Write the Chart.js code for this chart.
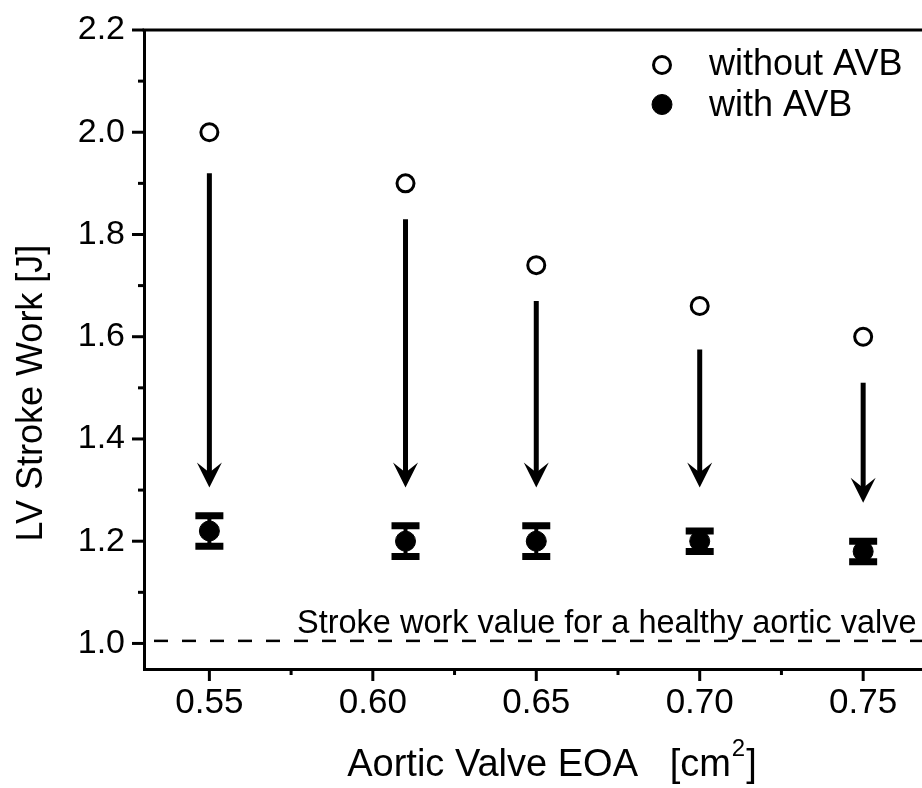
<!DOCTYPE html>
<html>
<head>
<meta charset="utf-8">
<script src="https://cdn.jsdelivr.net/npm/chart.js@4/dist/chart.umd.min.js"></script>
<style>
html,body{margin:0;padding:0;background:#fff;overflow:hidden;}
#wrap{width:922px;height:788px;}
</style>
</head>
<body>
<div id="wrap"><canvas id="c" width="922" height="788"></canvas></div>
<script>
// ---- data ----
const eoa = [0.55, 0.61, 0.65, 0.70, 0.75];
const withoutAVB = [2.00, 1.90, 1.74, 1.66, 1.60];
const withAVB = [1.22, 1.20, 1.20, 1.20, 1.18];
const errAVB = [0.03, 0.03, 0.03, 0.02, 0.02];
const arrowFrom = [1.92, 1.83, 1.67, 1.575, 1.51];
const arrowTo = [1.305, 1.305, 1.305, 1.305, 1.275];
const healthyValue = 1.005;
const xTickLabels = ['0.55', '0.60', '0.65', '0.70', '0.75'];
const xMinorTicks = [0.575, 0.625, 0.675, 0.725];
const yTickLabels = ['1.0', '1.2', '1.4', '1.6', '1.8', '2.0', '2.2'];
const yMinorTicks = [1.1, 1.3, 1.5, 1.7, 1.9, 2.1];
const seriesNames = ['without AVB', 'with AVB'];
const healthyLabel = 'Stroke work value for a healthy aortic valve';
const xTitle = ['Aortic Valve EOA   [cm', '2', ']'];
const yTitle = 'LV Stroke Work [J]';

const FONT = "'Liberation Sans', Arial, Helvetica, sans-serif";
const X_MIN = 0.53, X_MAX = 0.768, Y_MIN = 0.95, Y_MAX = 2.2;

const overlay = {
  id: 'overlay',
  beforeDatasetsDraw(chart) {
    const ctx = chart.ctx, xs = chart.scales.x, ys = chart.scales.y;
    ctx.save();
    ctx.strokeStyle = '#000'; ctx.fillStyle = '#000';
    // arrows
    eoa.forEach((v, i) => {
      const x = xs.getPixelForValue(v);
      const y0 = ys.getPixelForValue(arrowFrom[i]);
      const y1 = ys.getPixelForValue(arrowTo[i]);
      ctx.lineWidth = 5; ctx.lineCap = 'butt';
      ctx.beginPath(); ctx.moveTo(x, y0); ctx.lineTo(x, y1 - 12); ctx.stroke();
      ctx.beginPath();
      ctx.moveTo(x, y1);
      ctx.lineTo(x - 12.5, y1 - 25);
      ctx.lineTo(x, y1 - 15);
      ctx.lineTo(x + 12.5, y1 - 25);
      ctx.closePath(); ctx.fill();
    });
    // error bars
    eoa.forEach((v, i) => {
      const x = xs.getPixelForValue(v);
      const yt = ys.getPixelForValue(withAVB[i] + errAVB[i]);
      const yb = ys.getPixelForValue(withAVB[i] - errAVB[i]);
      ctx.lineWidth = 4;
      ctx.beginPath(); ctx.moveTo(x, yt); ctx.lineTo(x, yb); ctx.stroke();
      ctx.lineWidth = 7;
      ctx.beginPath();
      ctx.moveTo(x - 14, yt); ctx.lineTo(x + 14, yt);
      ctx.moveTo(x - 14, yb); ctx.lineTo(x + 14, yb);
      ctx.stroke();
    });
    ctx.restore();
  },
  afterDraw(chart) {
    const ctx = chart.ctx, xs = chart.scales.x, ys = chart.scales.y, a = chart.chartArea;
    ctx.save();
    ctx.strokeStyle = '#000'; ctx.fillStyle = '#000'; ctx.lineCap = 'butt';
    // top frame line
    ctx.lineWidth = 3;
    ctx.beginPath(); ctx.moveTo(a.left - 1.5, a.top); ctx.lineTo(a.right + 2, a.top); ctx.stroke();
    // y ticks
    yTickLabels.forEach(t => {
      const y = ys.getPixelForValue(parseFloat(t));
      ctx.beginPath(); ctx.moveTo(a.left - 12, y); ctx.lineTo(a.left, y); ctx.stroke();
    });
    yMinorTicks.forEach(v => {
      const y = ys.getPixelForValue(v);
      ctx.beginPath(); ctx.moveTo(a.left - 6, y); ctx.lineTo(a.left, y); ctx.stroke();
    });
    // x ticks
    xTickLabels.forEach(t => {
      const x = xs.getPixelForValue(parseFloat(t));
      ctx.beginPath(); ctx.moveTo(x, a.bottom); ctx.lineTo(x, a.bottom + 12); ctx.stroke();
    });
    xMinorTicks.forEach(v => {
      const x = xs.getPixelForValue(v);
      ctx.beginPath(); ctx.moveTo(x, a.bottom); ctx.lineTo(x, a.bottom + 6); ctx.stroke();
    });
    // healthy annotation
    ctx.font = '32.5px ' + FONT;
    ctx.textAlign = 'left'; ctx.textBaseline = 'alphabetic';
    ctx.fillText(healthyLabel, 297, 633);
    // legend
    const ds = chart.data.datasets;
    [0, 1].forEach(i => {
      const cy = 65 + i * 39.5;
      ctx.beginPath();
      ctx.arc(662, cy, ds[i].pointRadius, 0, Math.PI * 2);
      ctx.fillStyle = ds[i].pointBackgroundColor; ctx.fill();
      ctx.lineWidth = ds[i].pointBorderWidth; ctx.strokeStyle = '#000'; ctx.stroke();
      ctx.fillStyle = '#000';
      ctx.font = '36px ' + FONT;
      ctx.fillText(seriesNames[i], 709, 75 + i * 41);
    });
    // axis titles
    const big = '38px ' + FONT, small = '24px ' + FONT;
    ctx.textBaseline = 'alphabetic';
    ctx.font = big; const w0 = ctx.measureText(xTitle[0]).width;
    ctx.font = small; const w1 = ctx.measureText(xTitle[1]).width;
    ctx.font = big; const w2 = ctx.measureText(xTitle[2]).width;
    const x0 = 551 - (w0 + w1 + w2) / 2;
    ctx.font = big; ctx.fillText(xTitle[0], x0, 776);
    ctx.font = small; ctx.fillText(xTitle[1], x0 + w0 + 1, 756);
    ctx.font = big; ctx.fillText(xTitle[2], x0 + w0 + w1 + 2, 776);
    ctx.save();
    ctx.translate(32, 393); ctx.rotate(-Math.PI / 2);
    ctx.textAlign = 'center'; ctx.textBaseline = 'middle';
    ctx.font = '36px ' + FONT;
    ctx.fillText(yTitle, 0, 0);
    ctx.restore();
    ctx.restore();
  }
};

new Chart(document.getElementById('c'), {
  type: 'scatter',
  data: {
    datasets: [
      {
        label: seriesNames[0],
        data: eoa.map((x, i) => ({ x, y: withoutAVB[i] })),
        pointStyle: 'circle', pointRadius: 8.5, pointBorderWidth: 3,
        pointBackgroundColor: '#ffffff', pointBorderColor: '#000000',
        showLine: false
      },
      {
        label: seriesNames[1],
        data: eoa.map((x, i) => ({ x, y: withAVB[i] })),
        pointStyle: 'circle', pointRadius: 10, pointBorderWidth: 1,
        pointBackgroundColor: '#000000', pointBorderColor: '#000000',
        showLine: false
      },
      {
        label: 'healthy',
        type: 'line',
        data: [{ x: X_MIN, y: healthyValue }, { x: X_MAX, y: healthyValue }],
        borderColor: '#000', borderWidth: 2.5, borderDash: [14, 14], borderDashOffset: -10,
        pointRadius: 0, fill: false
      }
    ]
  },
  options: {
    responsive: false,
    animation: false,
    events: [],
    layout: { autoPadding: false, padding: { top: 30, right: 0, left: 0, bottom: 0 } },
    plugins: { legend: { display: false }, tooltip: { enabled: false } },
    scales: {
      x: {
        type: 'linear', min: X_MIN, max: X_MAX,
        afterBuildTicks: s => { s.ticks = xTickLabels.map(t => ({ value: parseFloat(t) })); },
        afterFit: s => { s.height = 119; s.paddingLeft = 0; s.paddingRight = 0; s.paddingTop = 0; s.paddingBottom = 0; },
        grid: { display: false, drawTicks: false, tickLength: 0 },
        border: { display: true, color: '#000', width: 3 },
        ticks: {
          padding: 13, color: '#000', font: { family: FONT, size: 35 },
          callback: v => xTickLabels.find(t => Math.abs(parseFloat(t) - v) < 1e-9) || ''
        }
      },
      y: {
        type: 'linear', min: Y_MIN, max: Y_MAX,
        afterBuildTicks: s => { s.ticks = yTickLabels.map(t => ({ value: parseFloat(t) })); },
        afterFit: s => { s.width = 144; s.paddingLeft = 0; s.paddingRight = 0; s.paddingTop = 0; s.paddingBottom = 0; },
        grid: { display: false, drawTicks: false, tickLength: 0 },
        border: { display: true, color: '#000', width: 3 },
        ticks: {
          padding: 19, color: '#000', font: { family: FONT, size: 34 },
          callback: v => yTickLabels.find(t => Math.abs(parseFloat(t) - v) < 1e-9) || ''
        }
      }
    }
  },
  plugins: [overlay]
});
</script>
</body>
</html>
